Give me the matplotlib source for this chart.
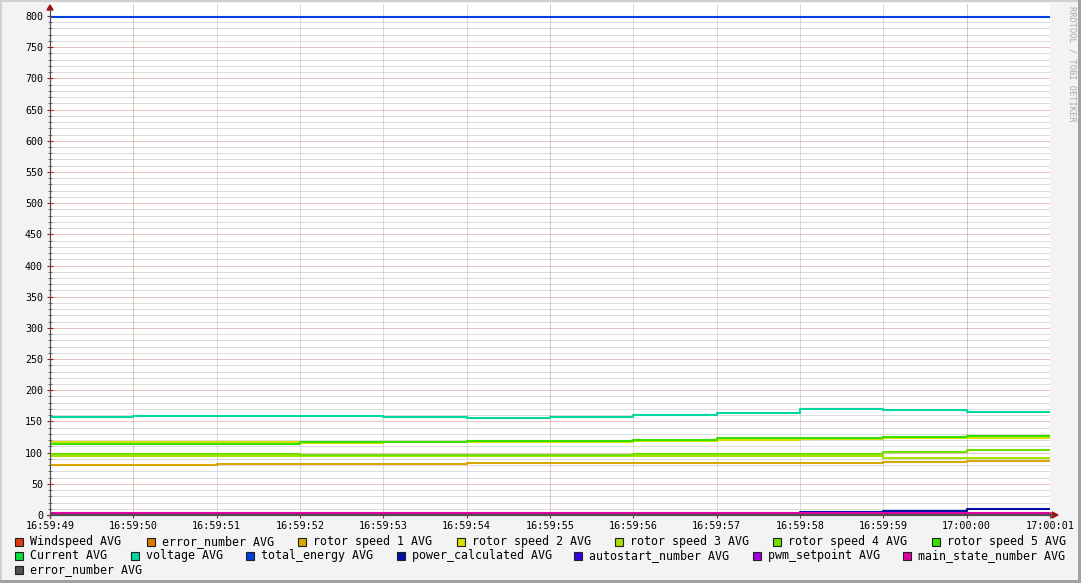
import matplotlib
matplotlib.use("Agg")
import matplotlib.pyplot as plt
from matplotlib.patches import Rectangle, Polygon
import numpy as np

# ---------------- data ----------------
time_labels = ["16:59:49", "16:59:50", "16:59:51", "16:59:52", "16:59:53", "16:59:54",
               "16:59:55", "16:59:56", "16:59:57", "16:59:58", "16:59:59", "17:00:00",
               "17:00:01"]

series_names = ["Windspeed AVG", "error_number AVG", "rotor speed 1 AVG", "rotor speed 2 AVG",
                "rotor speed 3 AVG", "rotor speed 4 AVG", "rotor speed 5 AVG",
                "Current AVG", "voltage AVG", "total_energy AVG", "power_calculated AVG",
                "autostart_number AVG", "pwm_setpoint AVG", "main_state_number AVG",
                "error_number AVG"]

series_colors = ["#E03A10", "#E07800", "#D8A800", "#D8E000", "#A8E000", "#70E000", "#38E000",
                 "#00E040", "#00D8A0", "#0040E0", "#0010A8", "#3800E0", "#A000E0", "#E000A0",
                 "#505050"]

# one value per one-second interval (12 intervals)
windspeed      = [1.0] * 12
error_number   = [0.0] * 12
rotor_speed_1  = [80.5, 80.5, 82.5, 82.5, 82.5, 84.0, 84.0, 84.0, 84.0, 84.0, 85.5, 87.0]
rotor_speed_2  = [117.5, 117.5, 117.5, 116.0, 117.0, 116.5, 117.0, 118.5, 120.5, 122.0, 123.5, 123.5]
rotor_speed_3  = [95.0, 95.0, 95.0, 94.5, 94.5, 94.5, 94.5, 94.5, 94.5, 94.5, 91.5, 91.5]
rotor_speed_4  = [98.0, 98.0, 98.0, 96.5, 96.5, 96.5, 96.5, 98.5, 98.5, 98.5, 101.0, 104.0]
rotor_speed_5  = [114.5, 114.5, 114.5, 116.5, 117.5, 118.5, 118.5, 120.0, 123.0, 123.5, 125.0, 126.5]
current        = [0.0] * 12
voltage        = [157.5, 159.0, 159.0, 159.0, 157.5, 155.5, 157.5, 160.5, 163.5, 170.0, 168.5, 165.5]
total_energy   = [798.0] * 12
power_calc     = [0.0, 0.0, 0.0, 0.0, 0.0, 0.0, 1.0, 1.0, 0.0, 5.5, 7.0, 9.0]
autostart      = [0.0] * 12
pwm_setpoint   = [0.0] * 12
main_state     = [3.2] * 12
error_number2  = [0.0] * 12

series_values = [windspeed, error_number, rotor_speed_1, rotor_speed_2, rotor_speed_3,
                 rotor_speed_4, rotor_speed_5, current, voltage, total_energy, power_calc,
                 autostart, pwm_setpoint, main_state, error_number2]

y_ticks = list(range(0, 801, 50))

# ---------------- figure ----------------
W, H = 1081, 583
DPI = 100
BG = "#F3F3F3"
fig = plt.figure(figsize=(W / DPI, H / DPI), dpi=DPI, facecolor=BG)

def px_x(x):
    return x / W

def px_y(y):
    return 1 - y / H

left, right, top, bottom = 50, 1050, 3, 515
ax = fig.add_axes([px_x(left), px_y(bottom), (right - left) / W, (bottom - top) / H])
ax.set_facecolor("white")

ppu = (515 - 16) / 800.0
ymax = (bottom - top) / ppu
n = len(time_labels) - 1
ax.set_xlim(0, n)
ax.set_ylim(0, ymax)

# grids
dot = (0, (1, 1))
for v in range(0, 801, 10):
    if v % 50 == 0:
        continue
    ax.axhline(v, color="#B8B8B8", lw=0.72, ls=dot, zorder=0.5)
for v in y_ticks:
    ax.axhline(v, color="#D88888", lw=0.72, ls=dot, zorder=0.6)
for i in range(n + 1):
    major = time_labels[i][-1] in "05"
    ax.axvline(i, color="#D88888" if major else "#B8B8B8", lw=0.72, ls=dot, zorder=0.6)

# lines
xs = np.arange(n + 1)
for name, col, vals in zip(series_names, series_colors, series_values):
    ys = list(vals) + [vals[-1]]
    ax.plot(xs, ys, drawstyle="steps-post", color=col, lw=1.5, solid_capstyle="butt",
            zorder=2)

for s in ax.spines.values():
    s.set_visible(False)

mono = "DejaVu Sans Mono"
ax.set_yticks(y_ticks)
ax.set_yticklabels([str(v) for v in y_ticks], fontfamily=mono, fontsize=7.2, color="#000000")
ax.set_yticks(list(range(0, 801, 10)), minor=True)
ax.set_xticks(list(range(n + 1)))
ax.set_xticklabels(time_labels, fontfamily=mono, fontsize=7.3, color="#000000")
ax.tick_params(axis="y", which="major", direction="inout", length=4, width=0.8,
               color="#A02020", pad=3)
ax.tick_params(axis="y", which="minor", direction="inout", length=3, width=0.7,
               color="#707070")
ax.tick_params(axis="x", which="major", direction="inout", length=4, width=0.8,
               color="#A02020", pad=2)

# axis lines with arrows (figure-pixel based)
axcol = "#505050"
fig.add_artist(plt.Line2D([px_x(left), px_x(left)], [px_y(bottom + 3), px_y(9)],
                          color=axcol, lw=0.9, transform=fig.transFigure))
fig.add_artist(plt.Line2D([px_x(left - 3), px_x(1053)], [px_y(bottom), px_y(bottom)],
                          color=axcol, lw=0.9, transform=fig.transFigure))
fig.add_artist(Polygon([[px_x(left - 3), px_y(10)], [px_x(left + 3), px_y(10)],
                        [px_x(left), px_y(5)]], closed=True, color="#A01010",
                       transform=fig.transFigure))
fig.add_artist(Polygon([[px_x(1052), px_y(bottom - 3)], [px_x(1052), px_y(bottom + 3)],
                        [px_x(1058), px_y(bottom)]], closed=True, color="#A01010",
                       transform=fig.transFigure))

# watermark
fig.text(px_x(1072), px_y(6), "RRDTOOL / TOBI OETIKER", rotation=-90, ha="center", va="top",
         fontfamily=mono, fontsize=6.2, color="#A8A8A8")

# legend (laid out in rows like rrdtool)
legend_rows = [
    [(0, 15), (1, 147), (2, 298), (3, 457), (4, 615), (5, 773), (6, 932)],
    [(7, 15), (8, 131), (9, 246), (10, 397), (11, 574), (12, 753), (13, 903)],
    [(14, 15)],
]
row_y = [541.5, 555.5, 569.5]
for row, yc in zip(legend_rows, row_y):
    for idx, xl in row:
        fig.add_artist(Rectangle((px_x(xl), px_y(yc + 4)), 8 / W, 8 / H,
                                 facecolor=series_colors[idx], edgecolor="#202020", lw=0.8,
                                 transform=fig.transFigure))
        fig.text(px_x(xl + 15), px_y(yc), series_names[idx], ha="left", va="center",
                 fontfamily=mono, fontsize=8.4, color="#000000")

# 3D-ish frame
fig.add_artist(Rectangle((0, 0), 2 / W, 1, facecolor="#D0D0D0", edgecolor="none",
                         transform=fig.transFigure))
fig.add_artist(Rectangle((0, 1 - 2 / H), 1, 2 / H, facecolor="#D0D0D0", edgecolor="none",
                         transform=fig.transFigure))
fig.add_artist(Rectangle((1 - 3 / W, 0), 3 / W, 1, facecolor="#A0A0A0", edgecolor="none",
                         transform=fig.transFigure))
fig.add_artist(Rectangle((0, 0), 1, 3 / H, facecolor="#A0A0A0", edgecolor="none",
                         transform=fig.transFigure))

fig.savefig("out.png", dpi=DPI, facecolor=BG)
